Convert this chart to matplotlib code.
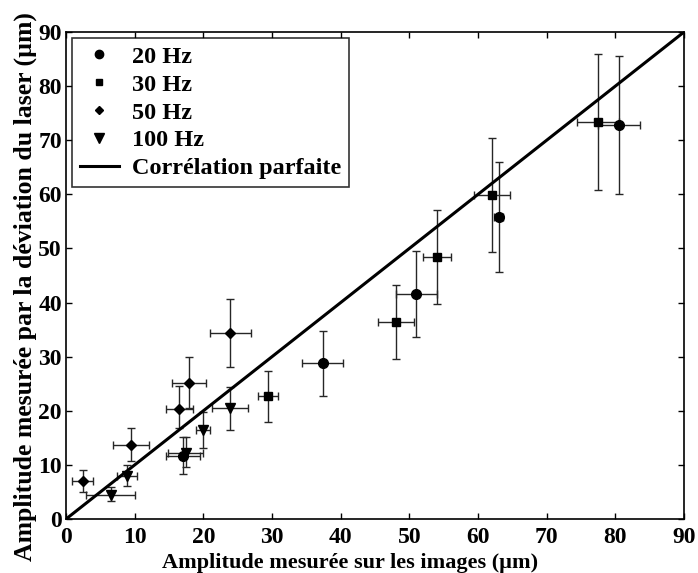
import matplotlib
matplotlib.use('Agg')
import matplotlib.pyplot as plt
from matplotlib.lines import Line2D
import numpy as np

plt.rcParams['font.family'] = ['Liberation Serif', 'DejaVu Serif']
plt.rcParams['font.weight'] = 'bold'

# 20 Hz
x20 = [17.0, 37.4, 51.0, 63.0, 80.5]
y20 = [11.7, 28.8, 41.6, 55.8, 72.8]
xe20 = [2.5, 3.0, 3.0, 0.7, 3.1]
ye20_lo = [3.3, 6.0, 8.0, 10.2, 12.7]
ye20_hi = [3.5, 6.0, 8.0, 10.2, 12.8]

# 30 Hz
x30 = [29.4, 48.1, 54.0, 62.0, 77.5]
y30 = [22.7, 36.4, 48.4, 59.9, 73.4]
xe30 = [1.5, 2.6, 2.0, 2.6, 3.1]
ye30_lo = [4.8, 6.8, 8.7, 10.5, 12.6]
ye30_hi = [4.7, 6.8, 8.7, 10.5, 12.5]

# 50 Hz
x50 = [2.4, 9.5, 16.5, 17.9, 23.9]
y50 = [7.0, 13.7, 20.4, 25.1, 34.4]
xe50 = [1.5, 2.6, 2.0, 2.5, 3.0]
ye50_lo = [2.0, 3.0, 3.6, 4.6, 6.3]
ye50_hi = [2.0, 3.1, 4.2, 4.9, 6.3]

# 100 Hz
x100 = [6.5, 8.9, 17.4, 20.0, 23.9]
y100 = [4.5, 8.0, 12.2, 16.5, 20.5]
xe100 = [3.6, 1.5, 2.5, 1.0, 2.6]
ye100_lo = [1.1, 1.9, 2.6, 3.4, 4.0]
ye100_hi = [1.4, 2.0, 3.0, 3.3, 3.9]

fig = plt.figure(figsize=(6.98, 5.73), dpi=100)
ax = fig.add_axes([0.0946, 0.0942, 0.8854, 0.8500])

ekw = dict(linestyle='none', ecolor='0.15', elinewidth=1.0, capsize=2.6, capthick=1.0,
           color='black', markeredgecolor='black')
ax.errorbar(x20, y20, xerr=xe20, yerr=[ye20_lo, ye20_hi], marker='o', markersize=7, **ekw)
ax.errorbar(x30, y30, xerr=xe30, yerr=[ye30_lo, ye30_hi], marker='s', markersize=6, **ekw)
ax.errorbar(x50, y50, xerr=xe50, yerr=[ye50_lo, ye50_hi], marker='D', markersize=5.2, **ekw)
ax.errorbar(x100, y100, xerr=xe100, yerr=[ye100_lo, ye100_hi], marker='v', markersize=7.5, **ekw)

ax.plot([0, 90], [0, 90], color='black', lw=2.2)

ax.set_xlim(0, 90)
ax.set_ylim(0, 90)
ax.set_xticks(np.arange(0, 91, 10))
ax.set_yticks(np.arange(0, 91, 10))
ax.tick_params(direction='in', top=True, right=True, length=4, width=1, labelsize=17, pad=3)
ax.tick_params(axis='x', pad=6)
for lbl in ax.get_xticklabels() + ax.get_yticklabels():
    lbl.set_fontweight('bold')
for s in ax.spines.values():
    s.set_linewidth(1.2)

ax.set_xlabel('Amplitude mesurée sur les images (µm)', fontsize=16, fontweight='bold')
ax.set_ylabel('Amplitude mesurée par la déviation du laser (µm)', fontsize=18.5, fontweight='bold')
ax.xaxis.set_label_coords(0.46, -0.07)
ax.yaxis.set_label_coords(-0.047, 0.478)

handles = [
    Line2D([], [], ls='none', marker='o', color='black', markersize=6),
    Line2D([], [], ls='none', marker='s', color='black', markersize=4.8),
    Line2D([], [], ls='none', marker='D', color='black', markersize=4.5),
    Line2D([], [], ls='none', marker='v', color='black', markersize=6.5),
    Line2D([], [], color='black', lw=2.2),
]
labels = ['20 Hz', '30 Hz', '50 Hz', '100 Hz', 'Corrélation parfaite']
leg = ax.legend(handles, labels, loc='upper left', fontsize=17.5, frameon=True, fancybox=False,
                edgecolor='black', handlelength=1.6, handletextpad=0.55, borderaxespad=0.25,
                labelspacing=0.24, borderpad=0.32)
leg.get_frame().set_linewidth(1.2)
for t in leg.get_texts():
    t.set_fontweight('bold')

plt.savefig('out.png', dpi=100)
